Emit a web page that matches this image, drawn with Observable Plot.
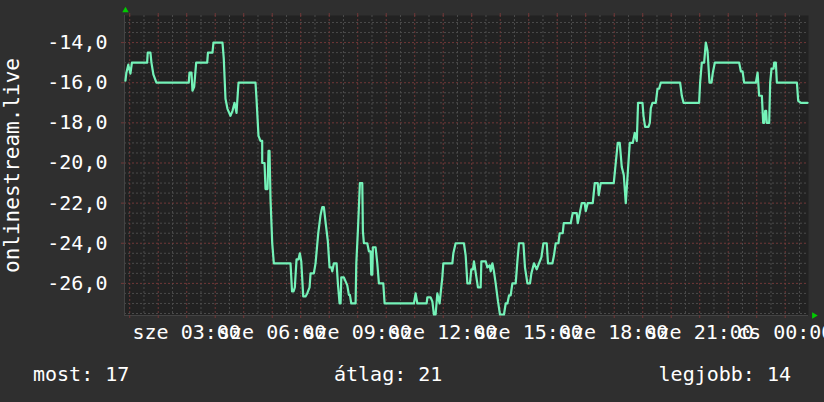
<!DOCTYPE html>
<html><head><meta charset="utf-8">
<script src="https://cdn.jsdelivr.net/npm/d3@7"></script>
<script src="https://cdn.jsdelivr.net/npm/@observablehq/plot@0.6"></script>
<style>
html,body{margin:0;padding:0;background:#2f2f2f;}
#wrap{position:relative;width:824px;height:402px;overflow:hidden;font-family:"DejaVu Sans Mono",monospace;}
#chart svg{display:block;}
#footer span{position:absolute;top:362px;font-size:20px;color:#ffffff;line-height:24px;white-space:pre;font-family:"DejaVu Sans Mono",monospace;}
</style></head><body>
<div id="wrap"><div id="chart"></div><div id="footer"></div></div>
<script>
// time of each reading, in minutes after midnight of Wednesday (sze)
const minutes = [51,53,57,61.5,64.6,96.7,97.9,103.6,105.7,109.9,116.2,184.3,185.8,190.0,192.1,195.7,199.9,223.1,224.7,234.2,236.3,255.3,258.0,261.6,265.8,272.1,276.4,280.6,284.8,289.0,324.8,326.9,331.1,335.3,338.9,338.9,343.8,345.9,350.1,352.2,354.3,356.4,360.0,363.4,398.5,401.7,404.9,407.6,411.2,415.4,418.1,421.1,425.3,430.1,433.7,438.6,440.7,447.6,451.2,456.9,461.7,465.3,468.7,472.9,477.1,480.7,484.3,486.4,489.8,495.5,498.2,501.8,503.9,505.4,510.8,514.4,518.0,521.4,523.5,526.4,535.5,537.0,540.3,544.6,549.6,550.9,553.0,560.1,563.5,567.1,568.5,570.7,571.9,577.6,581.2,584.6,593.8,596.6,658.3,661.9,665.5,685.1,686.5,693.5,697.1,700.4,704.0,707.6,712.4,718.1,720.2,739.2,741.3,746.1,763.6,767.2,770.8,776.3,779.2,782.6,784.7,793.1,798.8,800.3,809.4,812.9,817.8,819.9,823.5,826.8,830.4,835.3,839.5,847.9,851.5,855.1,858.5,862.0,865.6,872.6,876.1,879.5,888.8,892.1,897.2,902.7,905.6,911.1,916.8,921.6,926.7,930.9,937.9,940.6,949.9,953.2,956.8,962.5,965.2,971.6,973.7,988.4,992.6,1001.1,1003.2,1007.4,1011.6,1017.9,1020.0,1024.2,1034.8,1039.0,1045.3,1047.4,1051.6,1079.0,1083.2,1087.4,1091.6,1095.9,1100.1,1104.3,1108.5,1112.7,1119.0,1123.2,1127.5,1130.2,1139.5,1141.6,1145.0,1152.1,1154.9,1157.0,1160.5,1167.5,1171.1,1174.5,1178.0,1218.7,1222.3,1225.9,1258.7,1260.8,1264.4,1269.3,1272.8,1276.4,1280.6,1284.8,1287.6,1291.8,1343.0,1346.6,1350.2,1353.5,1378.2,1381.8,1385.1,1390.8,1393.6,1395.7,1397.8,1399.9,1401.3,1406.2,1408.3,1411.2,1415.5,1416.7,1420.3,1422.4,1464.6,1467.3,1473.0,1487.1];
const temps = [-15.9,-15.5,-15.1,-15.55,-15,-15,-14.5,-14.5,-15,-15.6,-16,-16,-15.5,-15.5,-16.4,-16.2,-15,-15,-14.5,-14.5,-14,-14,-14.8,-16.8,-17.3,-17.65,-17.4,-17,-17.5,-16,-16,-16.8,-18.65,-18.9,-18.9,-20,-20,-21.3,-21.3,-19.4,-19.4,-21.8,-24,-25,-25,-26.4,-26.4,-26.2,-24.8,-24.8,-24.5,-24.9,-26.65,-26.65,-26.5,-26.2,-25.5,-25.5,-25,-23.5,-22.6,-22.2,-22.2,-23.07,-23.9,-25.2,-25.2,-25.4,-25,-25,-26,-27,-27,-25.7,-25.7,-25.9,-26.1,-26.57,-26.57,-27,-27,-25,-23.4,-21,-21,-23.4,-24,-24,-24.4,-24.4,-25.57,-25.57,-24.2,-24.2,-25,-26,-26,-27,-27,-26.5,-27,-27,-26.7,-26.7,-26.9,-27.55,-27.55,-26.5,-27,-25.7,-25,-25,-24.5,-24,-24,-24.6,-26,-26,-25.3,-25.3,-24.9,-26.2,-26.2,-24.9,-24.9,-25.2,-25.1,-25.4,-25,-25.4,-26,-26.9,-27.55,-27.55,-27,-27,-26.6,-26.6,-26,-26,-24.9,-24,-24,-25.2,-26,-26,-25.5,-25,-25.3,-25,-24.7,-24,-24,-25,-25,-24.6,-24,-24,-23.5,-23.5,-23,-23,-22.5,-22.5,-23,-22.5,-22,-22,-22.4,-22,-22,-21,-21,-21.6,-21,-21,-20,-19,-19,-20.2,-20.6,-22,-20.5,-19,-19,-18.5,-18.9,-17,-17,-17.65,-18.2,-18.2,-18,-17.27,-17,-17,-16.3,-16.3,-16,-16,-16.65,-17,-17,-16,-15,-15,-14,-14.4,-16,-16,-15.5,-15,-15,-15.43,-15.43,-16,-16,-15.5,-16.65,-16.65,-18,-18,-17.4,-17.4,-18,-18,-16,-15.3,-15.3,-15,-15,-16,-16,-16.9,-17,-17];

const yTitle = "onlinestream.live";
const yTicks = [-26, -24, -22, -20, -18, -16, -14];
const labelHours = [3, 6, 9, 12, 15, 18, 21, 24];
const dayNames = {3: "sze", 4: "cs"};
const footerLabels = ["most", "átlag", "legjobb"];
const footerValues = [17, 21, 14];

const base = Date.UTC(2024, 0, 3); // a Wednesday
const toDate = m => new Date(base + m * 60000);
const data = minutes.map((m, i) => ({t: toDate(m), v: temps[i]}));
const x0 = toDate(49), x1 = toDate(1489);
const yDomain = [-27.6, -12.65];
const minorX = d3.utcMinute.every(30).range(x0, x1).filter(d => d.getUTCMinutes() !== 0);
const majorX = d3.utcHour.range(x0, x1);
const minorY = d3.range(-27.5, -12.9, 0.5).filter(v => v % 2 !== 0);
const labelTicks = labelHours.map(h => toDate(h * 60));
const fmtHM = d3.utcFormat("%H:%M");
const fmtX = d => dayNames[d.getUTCDay()] + " " + fmtHM(d);
const fmtY = d => d.toFixed(1).replace(".", ",");

const minorColor = "#4b4b4b";
const majorColor = "#703838";

const chart = Plot.plot({
  width: 824, height: 350,
  marginLeft: 124, marginRight: 16, marginTop: 15, marginBottom: 35,
  style: {background: "transparent", color: "#ffffff", fontFamily: "DejaVu Sans Mono", fontSize: "20px", overflow: "visible"},
  x: {type: "utc", domain: [x0, x1]},
  y: {domain: yDomain},
  marks: [
    Plot.frame({fill: "#222222", stroke: "none"}),
    Plot.gridX(minorX, {stroke: minorColor, strokeOpacity: 1, strokeDasharray: "2,2"}),
    Plot.gridY(minorY, {stroke: minorColor, strokeOpacity: 1, strokeDasharray: "2,2"}),
    Plot.gridX(majorX, {stroke: majorColor, strokeOpacity: 1, strokeDasharray: "2,2"}),
    Plot.gridY(yTicks, {stroke: majorColor, strokeOpacity: 1, strokeDasharray: "2,2"}),
    Plot.ruleX([x0], {stroke: "#444444"}),
    Plot.ruleY([yDomain[0]], {stroke: "#444444"}),
    Plot.axisX(majorX, {anchor: "bottom", tickSize: 3, stroke: majorColor, fill: "none", label: null, tickFormat: () => ""}),
    Plot.axisX(majorX, {anchor: "top", tickSize: 3, stroke: majorColor, fill: "none", label: null, tickFormat: () => ""}),
    Plot.axisY(yTicks, {anchor: "left", tickSize: 3, stroke: majorColor, fill: "none", label: null, tickFormat: () => ""}),
    Plot.axisX(labelTicks, {anchor: "bottom", tickSize: 0, tickPadding: 9, tickFormat: fmtX, fontSize: 20, fill: "#ffffff", label: null}),
    Plot.axisY(yTicks, {anchor: "left", tickSize: 0, tickPadding: 17, tickFormat: fmtY, fontSize: 20, fill: "#ffffff", label: null}),
    Plot.line(data, {x: "t", y: "v", stroke: "#74f2b8", strokeWidth: 2.2}),
    Plot.text([yTitle], {frameAnchor: "left", text: d => d, rotate: -90, dx: -112, fontSize: 21, fill: "#ffffff", textAnchor: "middle", lineAnchor: "middle"}),
    Plot.dot([0], {frameAnchor: "top-left", symbol: "triangle", r: 2.4, fill: "#00cc00", stroke: "none", dx: 1, dy: -5}),
    Plot.dot([0], {frameAnchor: "bottom-right", symbol: "triangle", r: 2.4, fill: "#00cc00", stroke: "none", rotate: 90, dx: 5.5})
  ]
});
document.getElementById("chart").appendChild(chart);

const footer = document.getElementById("footer");
const pos = [{left: "33px"}, {left: "334px"}, {right: "33px"}];
footerLabels.forEach((l, i) => {
  const s = document.createElement("span");
  s.textContent = l + ": " + footerValues[i];
  Object.assign(s.style, pos[i]);
  footer.appendChild(s);
});
</script>
</body></html>
